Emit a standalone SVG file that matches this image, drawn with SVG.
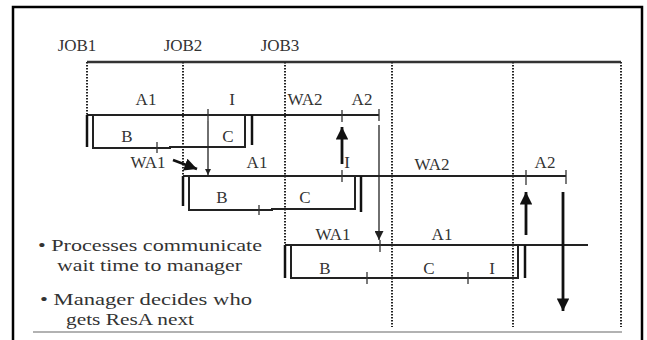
<svg xmlns="http://www.w3.org/2000/svg" width="647" height="340" viewBox="0 0 647 340">
<defs>
<style>
text{font-family:'Liberation Serif','Times New Roman','DejaVu Serif',serif;fill:#333}
.t{font-size:17px;text-anchor:middle}
.b{font-size:17.5px}
.ln{stroke:#222;stroke-width:2;fill:none}
.bar{stroke:#111;stroke-width:2.5;fill:none}
.tk{stroke:#333;stroke-width:1.3}
.dot{stroke:#222;stroke-width:2;stroke-dasharray:1.6 1.4;fill:none}
.thin{stroke:#222;stroke-width:1.3;fill:none}
.bold{stroke:#111;stroke-width:2.8;fill:none}
</style>
<marker id="hs" viewBox="0 0 10 10" refX="10" refY="5" markerWidth="6" markerHeight="6" markerUnits="userSpaceOnUse" orient="auto"><path d="M0,0L10,5L0,10z" fill="#222"/></marker>
<marker id="hb" viewBox="0 0 10 10" refX="10" refY="5" markerWidth="4.5" markerHeight="4.5" orient="auto"><path d="M0,0L10,5L0,10z" fill="#111"/></marker>
<marker id="hm" viewBox="0 0 10 10" refX="10" refY="5" markerWidth="9" markerHeight="9" markerUnits="userSpaceOnUse" orient="auto"><path d="M0,0L10,5L0,10z" fill="#222"/></marker>
</defs>
<rect width="647" height="340" fill="#fff"/>
<rect x="13" y="7" width="629" height="345" fill="none" stroke="#000" stroke-width="2.5"/>
<line x1="33" y1="332" x2="622" y2="332" stroke="#999" stroke-width="1.5"/>

<g id="timeline">
<text class="t" x="77" y="51">JOB1</text>
<text class="t" x="183" y="51">JOB2</text>
<text class="t" x="280" y="51">JOB3</text>
<line x1="87" y1="62" x2="621" y2="62" stroke="#333" stroke-width="2.5"/>
<line class="dot" x1="87" y1="62" x2="87" y2="115"/>
<line class="dot" x1="183" y1="62" x2="183" y2="176"/>
<line class="dot" x1="285" y1="62" x2="285" y2="245"/>
<line class="dot" x1="392" y1="62" x2="392" y2="327"/>
<line class="dot" x1="513" y1="62" x2="513" y2="327"/>
<line class="dot" x1="621" y1="62" x2="621" y2="327"/>
</g>

<g id="job1">
<line class="ln" x1="87" y1="115" x2="379" y2="115"/>
<line class="bar" x1="87" y1="115" x2="87" y2="147"/>
<path class="ln" d="M93,115V148H170V147H245V115"/>
<line class="bar" x1="252" y1="115" x2="252" y2="145"/>
<line class="tk" x1="208" y1="109" x2="208" y2="121"/>
<line class="tk" x1="342" y1="110" x2="342" y2="122" stroke-width="2"/>
<line class="tk" x1="379" y1="109" x2="379" y2="121"/>
<line class="tk" x1="157" y1="142" x2="157" y2="153"/>
<text class="t" x="146" y="105">A1</text>
<text class="t" x="232" y="105">I</text>
<text class="t" x="305" y="105">WA2</text>
<text class="t" x="362" y="105">A2</text>
<text class="t" x="127" y="142">B</text>
<text class="t" x="228" y="142">C</text>
</g>

<g id="job2">
<line class="ln" x1="183" y1="176" x2="566" y2="176"/>
<line class="bar" x1="183" y1="176" x2="183" y2="206"/>
<path class="ln" d="M189,176V210H272V209H355V176"/>
<line class="bar" x1="361" y1="176" x2="361" y2="212"/>
<line class="tk" x1="342" y1="170" x2="342" y2="182"/>
<line class="tk" x1="526" y1="170" x2="526" y2="185"/>
<line class="tk" x1="566" y1="170" x2="566" y2="184"/>
<line class="tk" x1="259" y1="205" x2="259" y2="215"/>
<text class="t" x="148" y="168">WA1</text>
<text class="t" x="257" y="168">A1</text>
<text class="t" x="347" y="168">I</text>
<text class="t" x="432" y="170">WA2</text>
<text class="t" x="545" y="168">A2</text>
<text class="t" x="222" y="203">B</text>
<text class="t" x="305" y="203">C</text>
</g>

<g id="job3">
<line class="ln" x1="285" y1="245" x2="588" y2="245"/>
<line class="bar" x1="285" y1="245" x2="285" y2="278"/>
<path class="ln" d="M291,245V278H518V245"/>
<line class="bar" x1="525" y1="245" x2="525" y2="278"/>
<line class="tk" x1="380" y1="240" x2="380" y2="252"/>
<line class="tk" x1="367" y1="272" x2="367" y2="284"/>
<line class="tk" x1="468" y1="272" x2="468" y2="284"/>
<text class="t" x="333" y="240">WA1</text>
<text class="t" x="442" y="240">A1</text>
<text class="t" x="325" y="274">B</text>
<text class="t" x="429" y="274">C</text>
<text class="t" x="492" y="274">I</text>
</g>

<g id="connectors">
<line class="thin" x1="208" y1="121" x2="208" y2="175" marker-end="url(#hs)"/>
<line class="bold" x1="173" y1="160" x2="197" y2="169" marker-end="url(#hb)"/>
<line class="bold" x1="342" y1="164" x2="342" y2="127" marker-end="url(#hb)"/>
<line class="thin" x1="379" y1="125" x2="379" y2="240" stroke-width="1.6" marker-end="url(#hm)"/>
<line class="bold" x1="526" y1="235" x2="526" y2="192" marker-end="url(#hb)"/>
<line class="bold" x1="563" y1="192" x2="563" y2="311" marker-end="url(#hb)"/>
</g>

<g id="notes">
<text class="b" x="38" y="251" textLength="224" lengthAdjust="spacingAndGlyphs">• Processes communicate</text>
<text class="b" x="57" y="271" textLength="185" lengthAdjust="spacingAndGlyphs">wait time to manager</text>
<text class="b" x="40" y="305" textLength="212" lengthAdjust="spacingAndGlyphs">• Manager decides who</text>
<text class="b" x="66" y="325" textLength="128" lengthAdjust="spacingAndGlyphs">gets ResA next</text>
</g>
</svg>
